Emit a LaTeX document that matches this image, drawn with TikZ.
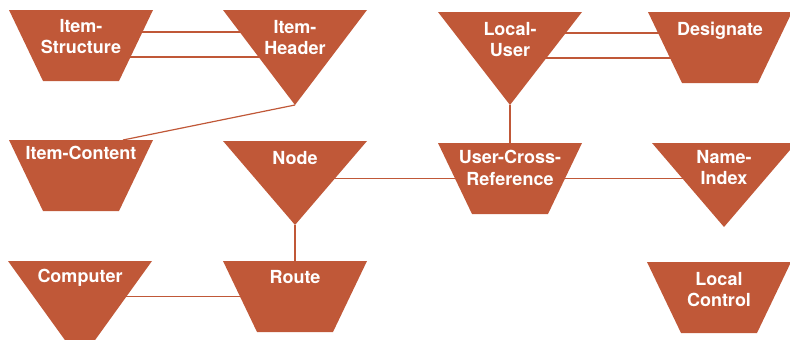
\documentclass[tikz,border=0pt]{standalone}
\usepackage{fontspec}
\setmainfont{TeX Gyre Heros}
\usepackage{tikz}
\usetikzlibrary{positioning}

\definecolor{rust}{RGB}{192,88,56}

\begin{document}
\begin{tikzpicture}[x=1pt, y=-1pt]
    \tikzstyle{funnel} = [rectangle, minimum width=144pt, minimum height=71pt, inner sep=0pt, outer sep=0pt, anchor=north]
    \tikzstyle{vee} = [rectangle, minimum width=144pt, inner sep=0pt, outer sep=0pt, anchor=north]
    \tikzstyle{tag} = [inner sep=0pt, align=center, text=white, font=\fontsize{18}{21.5}\selectfont\bfseries]
    \tikzstyle{link} = [draw=rust, line width=1.2pt]

    \path[use as bounding box, clip] (0,0) rectangle (790,340);

    % top row
    \node (istruct) [funnel] at (81,10) {};
    \node (iheader) [vee, minimum height=95pt] at (295,10) {};
    \node (localuser) [vee, minimum height=93pt] at (510,12) {};
    \node (designate) [funnel] at (720,12) {};

    % middle row
    \node (icontent) [funnel] at (81,140) {};
    \node (netnode) [vee, minimum height=84pt] at (295,141) {};
    \node (xref) [funnel] at (510,143) {};
    \node (nameidx) [vee, minimum height=84pt] at (724,143) {};

    % bottom row
    \node (computer) [vee, minimum height=100pt] at (80,261) {};
    \node (route) [funnel] at (295,261) {};
    \node (localctl) [funnel] at (719,262) {};

    % shapes
    \fill [rust] (istruct.north west) -- (istruct.north east) -- ([xshift=-34pt]istruct.south east) -- ([xshift=34pt]istruct.south west) -- cycle;
    \fill [rust] (designate.north west) -- (designate.north east) -- ([xshift=-34pt]designate.south east) -- ([xshift=34pt]designate.south west) -- cycle;
    \fill [rust] (icontent.north west) -- (icontent.north east) -- ([xshift=-34pt]icontent.south east) -- ([xshift=34pt]icontent.south west) -- cycle;
    \fill [rust] (xref.north west) -- (xref.north east) -- ([xshift=-34pt]xref.south east) -- ([xshift=34pt]xref.south west) -- cycle;
    \fill [rust] (route.north west) -- (route.north east) -- ([xshift=-34pt]route.south east) -- ([xshift=34pt]route.south west) -- cycle;
    \fill [rust] (localctl.north west) -- (localctl.north east) -- ([xshift=-34pt]localctl.south east) -- ([xshift=34pt]localctl.south west) -- cycle;
    \fill [rust] (iheader.north west) -- (iheader.north east) -- (iheader.south) -- cycle;
    \fill [rust] (localuser.north west) -- (localuser.north east) -- (localuser.south) -- cycle;
    \fill [rust] (netnode.north west) -- (netnode.north east) -- (netnode.south) -- cycle;
    \fill [rust] (nameidx.north west) -- (nameidx.north east) -- (nameidx.south) -- cycle;
    \fill [rust] (computer.north west) -- (computer.north east) -- (computer.south) -- cycle;

    % connectors
    \draw [link] ([yshift=13.5pt]istruct.center) -- ([yshift=13.5pt]istruct.center -| iheader.center);
    \draw [link] ([yshift=-11.5pt]istruct.center) -- ([yshift=-11.5pt]istruct.center -| iheader.center);
    \draw [link] ([yshift=14.5pt]designate.center -| localuser.center) -- ([yshift=14.5pt]designate.center);
    \draw [link] ([yshift=-10.5pt]designate.center -| localuser.center) -- ([yshift=-10.5pt]designate.center);
    \draw [link] (iheader.south) -- ([xshift=42pt]icontent.north);
    \draw [link] (localuser.south) -- (xref.north);
    \draw [link] (netnode.center |- xref.center) -- (xref.center) -- (nameidx.center |- xref.center);
    \draw [link] (netnode.south) -- (route.north);
    \draw [link] (computer.center |- route.center) -- (route.center);

    % texts
    \node (istruct-t) [tag, below=9pt of istruct.north] {Item-\\Structure};
    \node (iheader-t) [tag, below=10pt of iheader.north] {Item-\\Header};
    \node (localuser-t) [tag, below=10pt of localuser.north] {Local-\\User};
    \node (designate-t) [tag, below=10pt of designate.north] {Designate};
    \node (icontent-t) [tag, below=6pt of icontent.north] {Item-Content};
    \node (netnode-t) [tag, below=10pt of netnode.north] {Node};
    \node (xref-t) [tag, below=7pt of xref.north] {User-Cross-\\Reference};
    \node (nameidx-t) [tag, below=7pt of nameidx.north] {Name-\\Index};
    \node (computer-t) [tag, below=8pt of computer.north] {Computer};
    \node (route-t) [tag, below=9pt of route.north] {Route};
    \node (localctl-t) [tag, below=10pt of localctl.north] {Local\\Control};
\end{tikzpicture}
\end{document}
